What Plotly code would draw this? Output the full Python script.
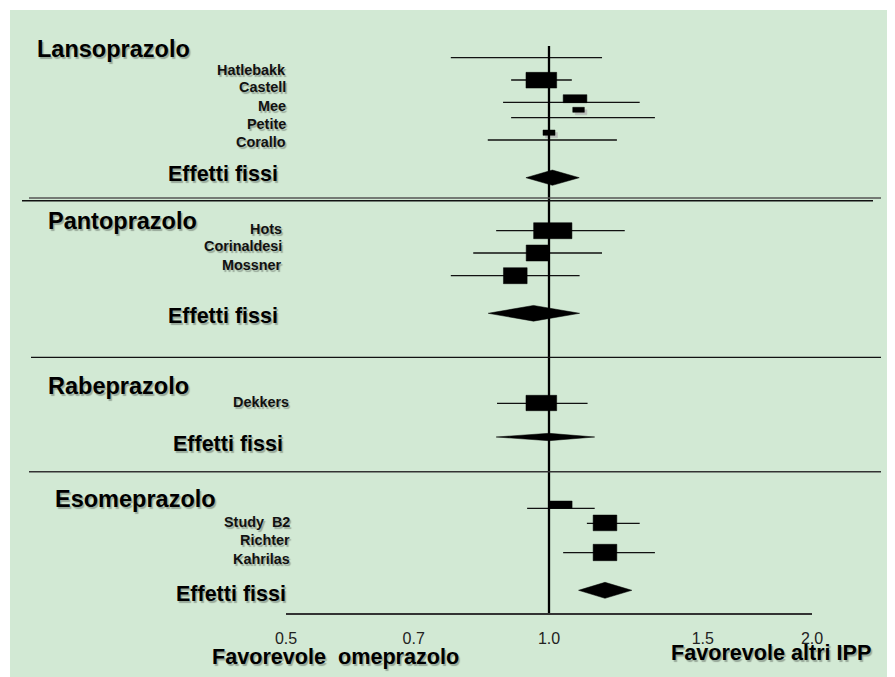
import math
import plotly.graph_objects as go

# ---------------- data ----------------
group_titles = ["Lansoprazolo", "Pantoprazolo", "Rabeprazolo", "Esomeprazolo"]
pooled_label = "Effetti fissi"

lanso_names = ["Hatlebakk", "Castell", "Mee", "Petite", "Corallo"]
lanso_est = [None, 0.980, 1.071, 1.081, 1.000]
lanso_lo = [0.772, 0.905, 0.886, 0.905, 0.851]
lanso_hi = [1.150, 1.062, 1.270, 1.322, 1.196]

panto_names = ["Hots", "Corinaldesi", "Mossner"]
panto_est = [1.010, 0.971, 0.915]
panto_lo = [0.870, 0.819, 0.772]
panto_hi = [1.221, 1.150, 1.084]

rabe_names = ["Dekkers"]
rabe_est = [0.980]
rabe_lo = [0.872]
rabe_hi = [1.107]

eso_names = ["Study\u00a0 B2", "Richter", "Kahrilas"]
eso_est = [1.031, 1.159, 1.159]
eso_lo = [0.944, 1.105, 1.038]
eso_hi = [1.128, 1.270, 1.322]

pooled_est = [1.009, 0.960, 1.000, 1.159]
pooled_lo = [0.941, 0.852, 0.870, 1.081]
pooled_hi = [1.083, 1.084, 1.128, 1.244]

tick_vals = [0.5, 0.7, 1.0, 1.5, 2.0]
tick_text = ["0.5", "0.7", "1.0", "1.5", "2.0"]
left_note = "Favorevole\u00a0 omeprazolo"
right_note = "Favorevole altri IPP"

# ---------------- layout (positions / sizes, in page-pixel row units) ----------------
PAGE_OFF = 8               # default page body margin
W, H = 895 - PAGE_OFF, 677 - PAGE_OFF
X0, X1 = 286, 812          # plot area horizontal extent (page px)
YT, YB = PAGE_OFF, 613     # plot area vertical extent (page px)
LOGSPAN = math.log10(4.0)

line_rows = [[57.7, 80, 102.3, 117.7, 140], [230.7, 253, 275.7], [403.3], [508.3, 523.3, 552.7]]
box_rows = [[None, 80.2, 98.7, 109.8, 132.7], [230.7, 253, 275.7], [403], [504.7, 522.9, 552.5]]
box_w = [[0, 30.7, 23.7, 11.6, 12], [38.3, 23.3, 23.7], [30.7], [23, 23.7, 23.7]]
box_h = [[0, 15.7, 8, 5, 5.3], [16, 16, 16], [15.4], [7.3, 15.7, 16.4]]
box_shadow = [[False, False, False, True, True], [False, False, False], [False], [False, False, False]]
diamond_rows = [177.7, 313.3, 437, 590.3]
diamond_h = [15.3, 15.7, 7.4, 16]
label_rows = [[70, 87.3, 106, 124, 142], [229.3, 246, 265.3], [402.3], [522, 540.3, 559]]
label_right = [286, 281.5, 289, 289.5]
title_left = [37, 47.7, 47.7, 55]
title_rows = [49, 221, 385.7, 498.7]
pooled_right = [278, 278, 283.3, 286]
pooled_rows = [174, 316, 444.3, 594.3]

names = [lanso_names, panto_names, rabe_names, eso_names]
ests = [lanso_est, panto_est, rabe_est, eso_est]
los = [lanso_lo, panto_lo, rabe_lo, eso_lo]
his = [lanso_hi, panto_hi, rabe_hi, eso_hi]

FONT = "Liberation Sans, Arial, sans-serif"
SHADOW = "1.5px 1.5px 1px rgba(0,0,0,0.28)"


def px2paper(px):
    return (px - X0) / (X1 - X0)


def py2paper(py):
    return (YB - py) / (YB - YT)


def halfw_factor(wpx):
    return 10 ** ((wpx / 2) / (X1 - X0) * LOGSPAN)


fig = go.Figure()

# CI lines
cx, cy = [], []
for g in range(4):
    for lo, hi, r in zip(los[g], his[g], line_rows[g]):
        cx += [lo, hi, None]
        cy += [r, r, None]
fig.add_trace(go.Scatter(x=cx, y=cy, mode="lines", line=dict(color="#111111", width=1.3),
                         hoverinfo="skip", showlegend=False))

# box shadows and boxes
sx, sy, bx, by = [], [], [], []
shift = halfw_factor(5)  # ~2.5 px horizontal offset for the drop shadow
for g in range(4):
    for e, r, w, h, s in zip(ests[g], box_rows[g], box_w[g], box_h[g], box_shadow[g]):
        if e is None:
            continue
        f = halfw_factor(w)
        bx += [e / f, e * f, e * f, e / f, e / f, None]
        by += [r - h / 2, r - h / 2, r + h / 2, r + h / 2, r - h / 2, None]
        if s:
            sx += [e * shift / f, e * shift * f, e * shift * f, e * shift / f, e * shift / f, None]
            sy += [r - h / 2 + 2.5, r - h / 2 + 2.5, r + h / 2 + 2.5, r + h / 2 + 2.5, r - h / 2 + 2.5, None]
fig.add_trace(go.Scatter(x=sx, y=sy, mode="lines", fill="toself", fillcolor="#B8BDB9",
                         line=dict(color="#B8BDB9", width=0.5), hoverinfo="skip", showlegend=False))
fig.add_trace(go.Scatter(x=bx, y=by, mode="lines", fill="toself", fillcolor="black",
                         line=dict(color="black", width=0.5), hoverinfo="skip", showlegend=False))

# diamonds
dx, dy = [], []
for e, lo, hi, r, h in zip(pooled_est, pooled_lo, pooled_hi, diamond_rows, diamond_h):
    dx += [lo, e, hi, e, lo, None]
    dy += [r, r - h / 2, r, r + h / 2, r, None]
fig.add_trace(go.Scatter(x=dx, y=dy, mode="lines", fill="toself", fillcolor="black",
                         line=dict(color="black", width=0.5), hoverinfo="skip", showlegend=False))

# line of no effect
fig.add_trace(go.Scatter(x=[1.0, 1.0], y=[46, YB], mode="lines", line=dict(color="black", width=2.3),
                         hoverinfo="skip", showlegend=False))

shapes = [
    dict(type="rect", xref="paper", yref="paper", x0=px2paper(10), x1=px2paper(905),
         y0=py2paper(690), y1=py2paper(10), fillcolor="#D2E9D4", line=dict(width=0), layer="below"),
    dict(type="line", xref="paper", yref="y", x0=px2paper(29), x1=px2paper(881), y0=198, y1=198,
         line=dict(color="#555555", width=1.5)),
    dict(type="line", xref="paper", yref="y", x0=px2paper(22), x1=px2paper(873), y0=200.8, y1=200.8,
         line=dict(color="#111111", width=1.6)),
    dict(type="line", xref="paper", yref="y", x0=px2paper(31), x1=px2paper(881), y0=357.3, y1=357.3,
         line=dict(color="#111111", width=1.3)),
    dict(type="line", xref="paper", yref="y", x0=px2paper(29), x1=px2paper(881), y0=471.7, y1=471.7,
         line=dict(color="#333333", width=1.6)),
]

ann = []
base = dict(showarrow=False, borderpad=0, borderwidth=0, yanchor="middle")
for g in range(4):
    ann.append(dict(base, text=group_titles[g], xref="paper", yref="y", x=px2paper(title_left[g]),
                    xanchor="left", y=title_rows[g],
                    font=dict(family=FONT, size=23.5, color="black", weight="bold", shadow=SHADOW)))
    ann.append(dict(base, text=pooled_label, xref="paper", yref="y", x=px2paper(pooled_right[g]),
                    xanchor="right", y=pooled_rows[g],
                    font=dict(family=FONT, size=21.5, color="black", weight="bold", shadow=SHADOW)))
    for n, r in zip(names[g], label_rows[g]):
        ann.append(dict(base, text=n, xref="paper", yref="y", x=px2paper(label_right[g]),
                        xanchor="right", y=r,
                        font=dict(family=FONT, size=14.4, color="#111111", weight="bold", shadow=SHADOW)))

ann.append(dict(base, text=left_note, xref="paper", yref="paper", x=px2paper(212), xanchor="left",
                y=py2paper(656), font=dict(family=FONT, size=21.6, color="black", weight="bold", shadow=SHADOW)))
ann.append(dict(base, text=right_note, xref="paper", yref="paper", x=px2paper(670.7), xanchor="left",
                y=py2paper(652.7), font=dict(family=FONT, size=21.6, color="black", weight="bold", shadow=SHADOW)))

fig.update_layout(
    width=W, height=H, autosize=False,
    margin=dict(l=X0 - PAGE_OFF, r=W - (X1 - PAGE_OFF), t=YT - PAGE_OFF, b=H - (YB - PAGE_OFF), pad=0),
    paper_bgcolor="white", plot_bgcolor="rgba(0,0,0,0)",
    shapes=shapes, annotations=ann, showlegend=False,
    xaxis=dict(type="log", range=[math.log10(0.5), math.log10(2.0)], tickvals=tick_vals, ticktext=tick_text,
               showgrid=False, zeroline=False, showline=True, linecolor="#333333", linewidth=1.6,
               ticks="outside", ticklen=10, tickcolor="rgba(0,0,0,0)",
               tickfont=dict(family=FONT, size=16, color="#222222"), fixedrange=True),
    yaxis=dict(range=[YB, YT], showgrid=False, zeroline=False, showline=False, showticklabels=False,
               ticks="", fixedrange=True),
)

fig.write_html("out.html")
